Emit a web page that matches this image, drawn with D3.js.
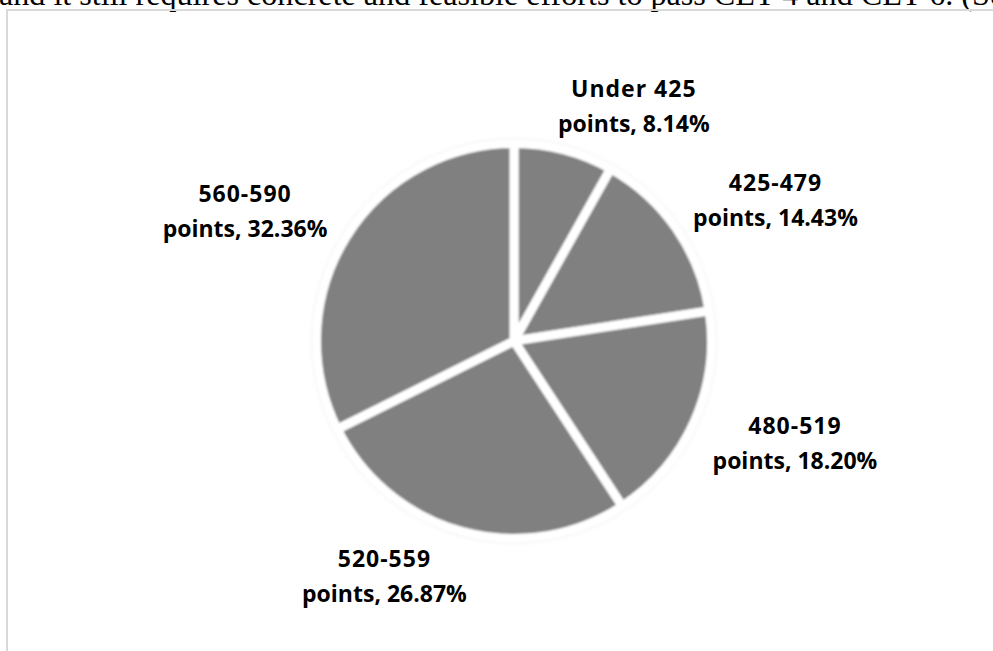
<!DOCTYPE html>
<html>
<head>
<meta charset="utf-8">
<script src="https://cdn.jsdelivr.net/npm/d3@7"></script>
<style>
  html, body { margin: 0; padding: 0; background: #fff; }
  svg { display: block; }
</style>
</head>
<body>
<svg id="chart" width="993" height="651"></svg>
<script>
// ---- data ----
const ranges = ["Under 425", "425-479", "480-519", "520-559", "560-590"];
const unit = "points";
const shares = [8.14, 14.43, 18.20, 26.87, 32.36];
const headerText = "and it still requires concrete and feasible efforts to pass CET-4 and CET-6. (See";

// ---- layout ----
const W = 993, H = 651;
const cx = 514, cy = 341, R = 197.5;
// label placement (polar, degrees clockwise from 12 o'clock, distance from centre)
const labelPolar = [[27.1, 263], [61.7, 297], [110, 299], [208.8, 269], [295.7, 298.5]];

const svg = d3.select("#chart");
const defs = svg.append("defs");

const soft = defs.append("filter").attr("id", "soft")
  .attr("x", "-20%").attr("y", "-20%").attr("width", "140%").attr("height", "140%");
soft.append("feGaussianBlur").attr("stdDeviation", 1.1);

const glow = defs.append("filter").attr("id", "glow")
  .attr("x", "-20%").attr("y", "-20%").attr("width", "140%").attr("height", "140%");
glow.append("feGaussianBlur").attr("stdDeviation", 3.5);

// header text (partly cut off at top, as in the source page)
const header = svg.append("text")
  .attr("x", -1).attr("y", 5)
  .attr("font-family", "'Liberation Serif', 'Times New Roman', serif")
  .attr("font-size", 100)
  .attr("fill", "#000")
  .text(headerText);
{
  const node = header.node();
  const idx = headerText.indexOf("(");
  const pre = node.getSubStringLength(0, idx);
  header.attr("font-size", 100 * 963 / pre);
}

// chart frame
svg.append("rect")
  .attr("x", 7).attr("y", 10)
  .attr("width", W + 20).attr("height", H + 20)
  .attr("fill", "none").attr("stroke", "#d9d9d9").attr("stroke-width", 2);

const pie = d3.pie().sort(null).value(d => d).startAngle(0).endAngle(2 * Math.PI);
const arcs = pie(shares);
const arc = d3.arc().innerRadius(0).outerRadius(R);

const g = svg.append("g").attr("transform", `translate(${cx},${cy})`);

// soft halo
g.append("g").attr("filter", "url(#glow)").attr("opacity", 0.75)
  .selectAll("path").data(arcs).join("path")
  .attr("d", arc).attr("fill", "#9a9a9a");

// slices
g.append("g").attr("filter", "url(#soft)")
  .selectAll("path").data(arcs).join("path")
  .attr("d", arc)
  .attr("fill", "#808080")
  .attr("stroke", "#ffffff")
  .attr("stroke-width", 9)
  .attr("stroke-linejoin", "round");

// labels
const lineH = 35;
const labels = g.append("g")
  .attr("font-family", "'Open Sans', 'Noto Sans', sans-serif")
  .attr("font-weight", 700)
  .attr("font-size", 23)
  .attr("fill", "#000")
  .attr("text-anchor", "middle");

arcs.forEach((a, i) => {
  const [ang, dist] = labelPolar[i];
  const t = ang * Math.PI / 180;
  const x = dist * Math.sin(t);
  const y = -dist * Math.cos(t);
  const txt = labels.append("text").attr("x", x).attr("y", y - 9.5);
  txt.append("tspan").attr("x", x).attr("letter-spacing", 1).text(ranges[i]);
  txt.append("tspan").attr("x", x).attr("dy", lineH)
    .text(`${unit}, ${d3.format(".2f")(a.data)}%`);
});
</script>
</body>
</html>
